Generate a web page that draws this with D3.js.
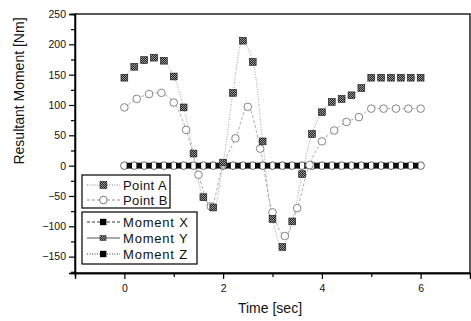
<!DOCTYPE html>
<html><head><meta charset="utf-8">
<script src="https://cdn.jsdelivr.net/npm/d3@7"></script>
<style>
html,body{margin:0;padding:0;background:#fff;}
svg{display:block;font-family:"Liberation Sans",Arial,sans-serif;}
</style></head>
<body>
<svg id="c" width="471" height="321"></svg>
<script>
// ---- data ----
const timeA = [0,0.2,0.4,0.6,0.8,1.0,1.2,1.4,1.6,1.8,2.0,2.2,2.4,2.6,2.8,3.0,3.2,3.4,3.6,3.8,4.0,4.2,4.4,4.6,4.8,5.0,5.2,5.4,5.6,5.8,6.0];
const pointA = [145,163,174,178,173,147,96,20,-52,-69,5,120,206,171,40,-88,-134,-92,-14,52,88,105,110,116,128,145,145,145,145,145,145];
const timeB = [0,0.25,0.5,0.75,1.0,1.25,1.5,1.75,2.0,2.25,2.5,2.75,3.0,3.25,3.5,3.75,4.0,4.25,4.5,4.75,5.0,5.25,5.5,5.75,6.0];
const pointB = [96,110,118,120,104,59,-15,-67,2,45,97,28,-77,-116,-70,1,40,58,72,80,94,94,94,94,94];
const momentTimes = [0.1,0.3,0.5,0.7,0.9,1.1,1.3,1.5,1.7,1.9,2.1,2.3,2.5,2.7,2.9,3.1,3.3,3.5,3.7,3.9,4.1,4.3,4.5,4.7,4.9,5.1,5.3,5.5,5.7,5.9];
const momentX = [0,0,0,0,0,0,0,0,0,0,0,0,0,0,0,0,0,0,0,0,0,0,0,0,0,0,0,0,0,0];
const momentY = [0,0,0,0,0,0,0,0,0,0,0,0,0,0,0,0,0,0,0,0,0,0,0,0,0,0,0,0,0,0];
const momentZ = [0,0,0,0,0,0,0,0,0,0,0,0,0,0,0,0,0,0,0,0,0,0,0,0,0,0,0,0,0,0];
const baseTimes = [0,0.2,0.4,0.6,0.8,1.0,1.2,1.4,1.6,1.8,2.0,2.2,2.4,2.6,2.8,3.0,3.2,3.4,3.6,3.8,4.0,4.2,4.4,4.6,4.8,5.0,5.2,5.4,5.6,5.8,6.0];
const baseValues = [0,0,0,0,0,0,0,0,0,0,0,0,0,0,0,0,0,0,0,0,0,0,0,0,0,0,0,0,0,0,0];
const xMajor = [0,2,4,6];
const xMinor = [-1,1,3,5];
const yMajor = [250,200,150,100,50,0,-50,-100,-150];
const yMinor = [225,175,125,75,25,-25,-75,-125,-175];
const xTitle = "Time [sec]";
const yTitle = "Resultant Moment [Nm]";
const legend1 = ["Point A","Point B"];
const legend2 = ["Moment X","Moment Y","Moment Z"];

// ---- chart ----
const svg = d3.select("#c");
const L=75,R=470,T=14,B=273;
const x = d3.scaleLinear().domain([-1,7]).range([L,R]);
const y = d3.scaleLinear().domain([-177,250]).range([B,T]);

const defs = svg.append("defs");
const pat = defs.append("pattern").attr("id","chk").attr("width",2).attr("height",2).attr("patternUnits","userSpaceOnUse");
pat.append("rect").attr("width",2).attr("height",2).attr("fill","#222");
pat.append("rect").attr("width",1).attr("height",1).attr("fill","#999");
pat.append("rect").attr("x",1).attr("y",1).attr("width",1).attr("height",1).attr("fill","#999");

// frame
svg.append("rect").attr("x",L).attr("y",T).attr("width",R-L).attr("height",B-T)
  .attr("fill","none").attr("stroke","#000").attr("stroke-width",1.3);

// axes
svg.append("g").attr("transform",`translate(${L},0)`)
  .call(d3.axisLeft(y).tickValues(yMajor).tickSize(6).tickPadding(3).tickFormat(d3.format("d")));
svg.append("g").attr("transform",`translate(${L},0)`)
  .call(d3.axisLeft(y).tickValues(yMinor).tickSize(4).tickFormat(""));
svg.append("g").attr("transform",`translate(0,${B})`)
  .call(d3.axisBottom(x).tickValues(xMajor).tickSize(6).tickPadding(6).tickFormat(d3.format("d")));
svg.append("g").attr("transform",`translate(0,${B})`)
  .call(d3.axisBottom(x).tickValues(xMinor).tickSize(4).tickFormat(""));
svg.selectAll(".domain").attr("stroke","#000").attr("stroke-width",1.3);
svg.selectAll(".tick line").attr("stroke","#000").attr("stroke-width",1.2);
svg.selectAll(".tick text").attr("font-size",10.5).attr("fill","#111").attr("font-family","Liberation Sans, Arial, sans-serif");

// titles
svg.append("text").attr("transform","translate(24,91) rotate(-90)").attr("text-anchor","middle")
  .attr("font-size",14).attr("fill","#111").text(yTitle);
svg.append("text").attr("x",270).attr("y",313).attr("text-anchor","middle")
  .attr("font-size",14).attr("fill","#111").text(xTitle);

const g = svg.append("g");
const curve = d3.curveCatmullRom.alpha(0.5);
const zl = d3.line().x(d=>x(d[0])).y(d=>y(d[1]));
g.append("path").attr("d",zl(d3.zip(momentTimes,momentX))).attr("fill","none").attr("stroke","#000").attr("stroke-width",0.8).attr("stroke-dasharray","3,2");

const lA = d3.line().x(d=>x(d[0])).y(d=>y(d[1])).curve(curve);
g.append("path").attr("d",lA(d3.zip(timeA,pointA))).attr("fill","none")
  .attr("stroke","#888").attr("stroke-width",0.8).attr("stroke-dasharray","1,1.5");
g.append("path").attr("d",lA(d3.zip(timeB,pointB))).attr("fill","none")
  .attr("stroke","#999").attr("stroke-width",0.8).attr("stroke-dasharray","3,2");

// zero row markers
g.selectAll("circle.base").data(d3.zip(baseTimes,baseValues)).join("circle")
  .attr("cx",d=>x(d[0])).attr("cy",d=>y(d[1])).attr("r",3.8)
  .attr("fill","#fff").attr("stroke","#555").attr("stroke-width",0.9);
const mz = d3.zip(momentTimes,momentX,momentY,momentZ);
g.selectAll("rect.mx").data(mz).join("rect")
  .attr("x",d=>x(d[0])-2.7).attr("y",d=>y(d[1])-2.9).attr("width",5.4).attr("height",5.8).attr("fill","#000");
g.selectAll("rect.mz").data(mz).join("rect")
  .attr("x",d=>x(d[0])-2.3).attr("y",d=>y(d[3])-2.3).attr("width",4.6).attr("height",4.6).attr("fill","#111");

// Point B markers
g.selectAll("circle.b").data(d3.zip(timeB,pointB)).join("circle")
  .attr("cx",d=>x(d[0])).attr("cy",d=>y(d[1])).attr("r",3.8)
  .attr("fill","#fff").attr("stroke","#777").attr("stroke-width",0.9);
// Point A markers
g.selectAll("rect.a").data(d3.zip(timeA,pointA)).join("rect")
  .attr("x",d=>x(d[0])-3.4).attr("y",d=>y(d[1])-3.4).attr("width",6.8).attr("height",6.8)
  .attr("fill","url(#chk)").attr("stroke","#111").attr("stroke-width",0.6);

// legends
const lg = svg.append("g").attr("font-size",13).attr("fill","#111");
lg.append("rect").attr("x",82).attr("y",175).attr("width",88).attr("height",33).attr("fill","#fff").attr("stroke","#000").attr("stroke-width",1.2);
lg.append("rect").attr("x",82).attr("y",212).attr("width",115).attr("height",52).attr("fill","#fff").attr("stroke","#000").attr("stroke-width",1.2);
const ly1 = [185,200];
legend1.forEach((t,i)=>{
  const yy = ly1[i];
  lg.append("line").attr("x1",87).attr("x2",120).attr("y1",yy).attr("y2",yy)
    .attr("stroke",i? "#888":"#777").attr("stroke-width",0.9).attr("stroke-dasharray", i? "3,2":"1,1.5");
  if(i===0) lg.append("rect").attr("x",100).attr("y",yy-3.4).attr("width",6.8).attr("height",6.8).attr("fill","url(#chk)").attr("stroke","#111").attr("stroke-width",0.6);
  else lg.append("circle").attr("cx",103.4).attr("cy",yy).attr("r",3.8).attr("fill","#fff").attr("stroke","#777");
  lg.append("text").attr("x",123).attr("y",yy+4.8).attr("letter-spacing",0.4).text(t);
});
const ly2 = [222,238,254];
legend2.forEach((t,i)=>{
  const yy = ly2[i];
  lg.append("line").attr("x1",87).attr("x2",120).attr("y1",yy).attr("y2",yy)
    .attr("stroke",i===1?"#555":"#000").attr("stroke-width",i===1?1.2:0.8)
    .attr("stroke-dasharray", i===0?"3,2": i===2?"1,1.5":null);
  if(i===1) lg.append("rect").attr("x",100).attr("y",yy-2.5).attr("width",6).attr("height",5).attr("fill","url(#chk)").attr("stroke","#333").attr("stroke-width",0.6);
  else lg.append("rect").attr("x",100).attr("y",yy-3.2).attr("width",6.4).attr("height",6.4).attr("fill","#000");
  lg.append("text").attr("x",123).attr("y",yy+4.8).attr("letter-spacing",0.8).text(t);
});
</script>
</body></html>
